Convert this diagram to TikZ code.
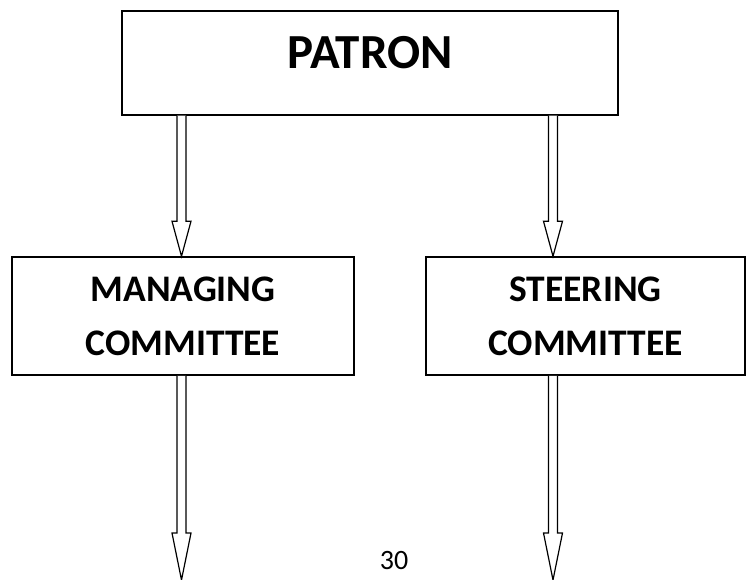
\documentclass[tikz,border=0pt]{standalone}
\usepackage{fontspec}
\setmainfont{Carlito}
\usetikzlibrary{calc}
\tikzset{
  box/.style={draw, line width=1.5pt, rectangle, inner sep=0pt, align=center},
  bigtitle/.style={font=\bfseries\fontsize{49}{52}\selectfont},
  boxtitle/.style={font=\bfseries\fontsize{37.5}{54}\selectfont},
  pagenum/.style={font=\fontsize{28}{30}\selectfont},
  blockarrow/.style={draw, line width=1.2pt, line join=miter, fill=white}
}
% #1 start point, #2 tip point, #3 head length
\newcommand\blockarr[3]{%
  \path[blockarrow] let \p1=#1, \p2=#2 in
    (\x1-4.5pt,\y1) -- (\x1-4.5pt,\y2+#3) -- (\x1-9.5pt,\y2+#3) -- (\x1,\y2)
    -- (\x1+9.5pt,\y2+#3) -- (\x1+4.5pt,\y2+#3) -- (\x1+4.5pt,\y1);}
\begin{document}
\begin{tikzpicture}[x=1pt,y=-1pt]
\useasboundingbox (0,0) rectangle (747,580);
\node[box, minimum width=496pt, minimum height=104pt] (patron) at (370,63) {};
\node[bigtitle] (patrontext) at (370,53) {PATRON};
\node[box, boxtitle, minimum width=342pt, minimum height=118pt] (managing) at (183,316) {MANAGING\\COMMITTEE};
\node[box, boxtitle, minimum width=319pt, minimum height=118pt] (steering) at (585.5,316) {STEERING\\COMMITTEE};
\node[pagenum] (page) at (394,561) {30};
\coordinate (lx) at (181.5,0);
\coordinate (rx) at (553,0);
\coordinate (lend) at (181.5,580);
\coordinate (rend) at (553,580);
\blockarr{(patron.south -| lx)}{(managing.north -| lx)}{35pt}
\blockarr{(patron.south -| rx)}{(steering.north -| rx)}{35pt}
\blockarr{(managing.south -| lx)}{(lend)}{47pt}
\blockarr{(steering.south -| rx)}{(rend)}{47pt}
\end{tikzpicture}
\end{document}
